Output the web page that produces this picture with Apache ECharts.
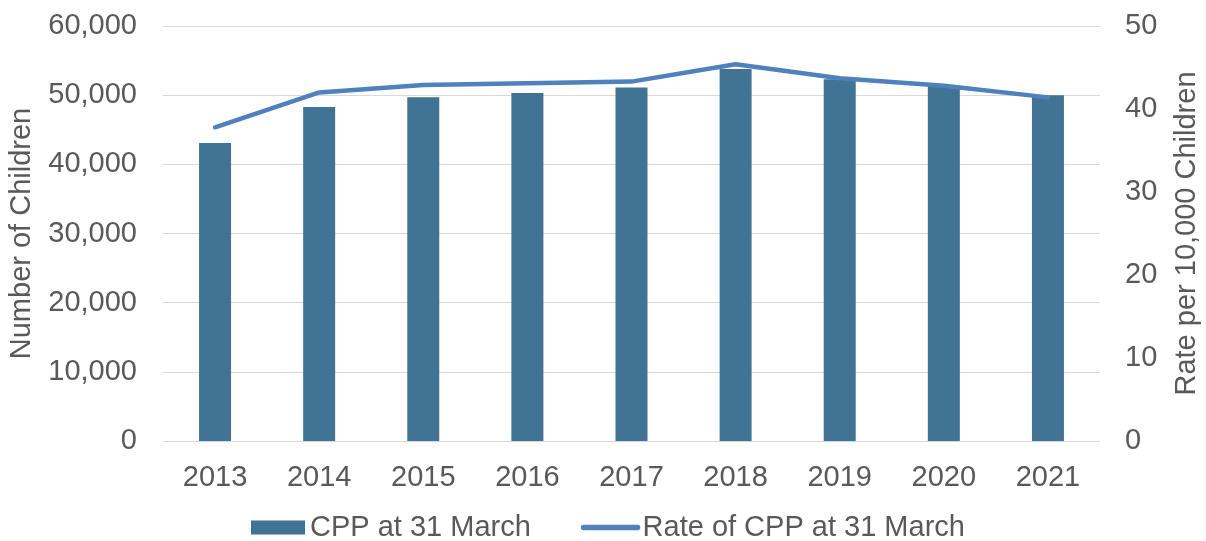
<!DOCTYPE html>
<html>
<head>
<meta charset="utf-8">
<script src="https://cdn.jsdelivr.net/npm/echarts@6/dist/echarts.min.js"></script>
<style>
  html, body { margin: 0; padding: 0; background: #fff; }
  #chart { width: 1206px; height: 541px; }
</style>
</head>
<body>
<div id="chart"></div>
<script>
// 年份与数据
const years = ['2013', '2014', '2015', '2016', '2017', '2018', '2019', '2020', '2021']
const cppCounts = [43100, 48300, 49700, 50300, 51100, 53800, 52300, 51300, 50000]
const cppRates = [37.8, 42.0, 42.9, 43.1, 43.3, 45.4, 43.7, 42.8, 41.4]

const textColor = '#595959'
const fontFamily = '"Liberation Sans", Arial, sans-serif'
const fontSize = 29

const myChart = echarts.init(document.getElementById('chart'))
myChart.setOption({
    animation: false,
    textStyle: { fontFamily: fontFamily },
    grid: {
        left: 163,
        right: 106,
        top: 26,
        bottom: 100,
        outerBoundsMode: 'none',
    },
    legend: {
        top: 508,
        left: 246,
        itemGap: 50,
        itemWidth: 54,
        itemHeight: 14,
        textStyle: { color: textColor, fontSize: fontSize, fontFamily: fontFamily },
        data: [
            { name: 'CPP at 31 March', icon: 'rect' },
            {
                name: 'Rate of CPP at 31 March',
                itemStyle: { opacity: 0 },
                lineStyle: { width: 5.5, cap: 'round' },
            },
        ],
    },
    xAxis: {
        type: 'category',
        data: years,
        axisLine: { show: true, lineStyle: { color: '#d9d9d9', width: 1 } },
        axisTick: { show: false },
        axisLabel: { color: textColor, fontSize: fontSize, margin: 22 },
    },
    yAxis: [
        {
            type: 'value',
            min: 0,
            max: 60000,
            interval: 10000,
            name: 'Number of Children',
            nameLocation: 'middle',
            nameGap: 127,
            nameTextStyle: { color: textColor, fontSize: fontSize },
            axisLine: { show: false },
            axisTick: { show: false },
            axisLabel: {
                color: textColor,
                fontSize: fontSize,
                margin: 26,
                formatter: v => v.toLocaleString('en-US'),
            },
            splitLine: { lineStyle: { color: '#d9d9d9', width: 1 } },
        },
        {
            type: 'value',
            min: 0,
            max: 50,
            interval: 10,
            name: 'Rate per 10,000 Children',
            nameLocation: 'middle',
            nameGap: 72,
            nameRotate: 90,
            nameTextStyle: { color: textColor, fontSize: fontSize },
            axisLine: { show: false },
            axisTick: { show: false },
            axisLabel: { color: textColor, fontSize: fontSize, margin: 25 },
            splitLine: { show: false },
        },
    ],
    series: [
        {
            name: 'CPP at 31 March',
            type: 'bar',
            data: cppCounts,
            yAxisIndex: 0,
            barWidth: 32,
            itemStyle: { color: '#417394' },
        },
        {
            name: 'Rate of CPP at 31 March',
            type: 'line',
            data: cppRates,
            yAxisIndex: 1,
            symbol: 'none',
            lineStyle: { color: '#4F81BD', width: 4.5, cap: 'round' },
            itemStyle: { color: '#4F81BD' },
        },
    ],
})
window.addEventListener('resize', myChart.resize)
</script>
</body>
</html>
